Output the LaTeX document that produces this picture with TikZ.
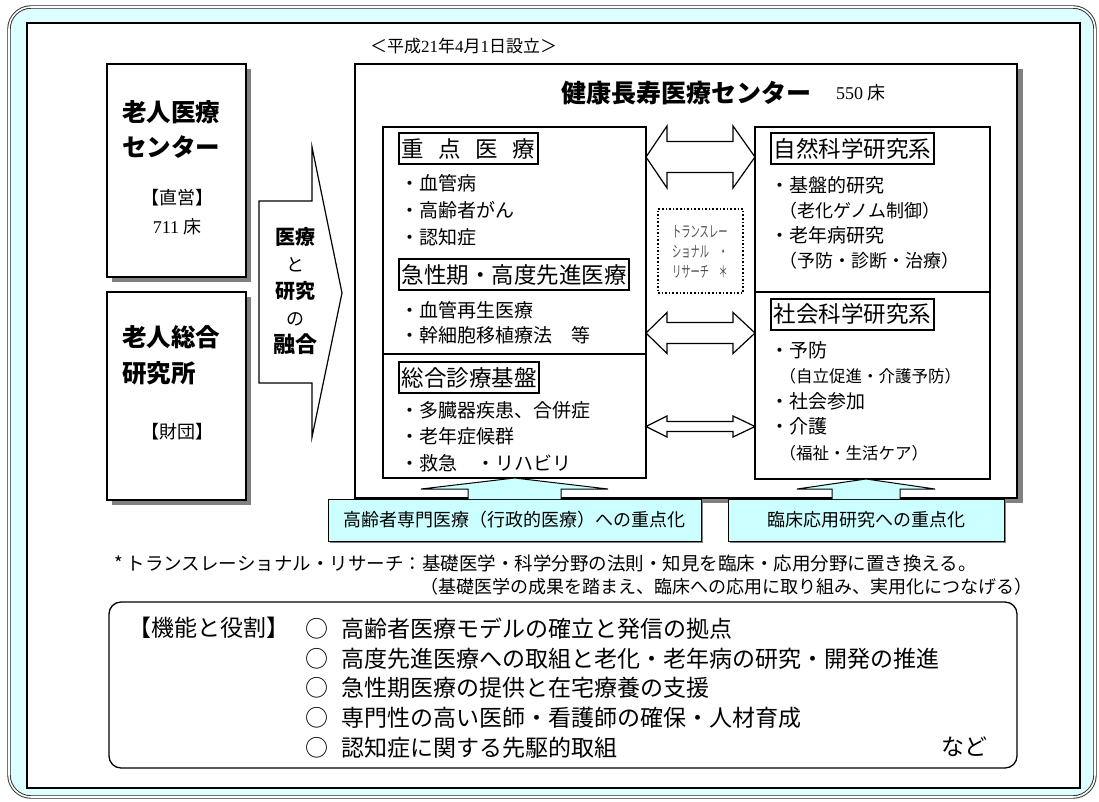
\documentclass[tikz,border=0pt]{standalone}
\usepackage{fontspec}
\setmainfont{Noto Sans CJK JP}
\newfontfamily\numfont{Liberation Serif}
\usepackage{graphicx}
\usetikzlibrary{positioning,shadows,calc}
\definecolor{FrameCyan}{HTML}{DDFFFF}
\definecolor{FocusCyan}{HTML}{CCFFFF}
\definecolor{ShadowGray}{HTML}{808080}
\definecolor{NoteGray}{HTML}{505050}

\begin{document}
\begin{tikzpicture}[
  x=1pt,y=-1pt,
  every node/.style={inner sep=0pt,outer sep=0pt},
  frame/.style={draw=black!85,double=white,double distance=1.6pt,line width=0.9pt,fill=FrameCyan,rounded corners=22pt},
  sheet/.style={draw,line width=1.2pt,fill=white},
  orgbox/.style={draw,line width=1.2pt,fill=white,minimum width=139pt,drop shadow={shadow xshift=5pt,shadow yshift=-5pt,fill=ShadowGray,opacity=1}},
  mainbox/.style={draw,line width=1.2pt,fill=white,drop shadow={shadow xshift=6pt,shadow yshift=-5pt,fill=ShadowGray,opacity=1}},
  panel/.style={draw,line width=1.2pt,fill=white},
  hdr/.style={draw,line width=2pt,inner xsep=2.5pt,minimum height=31pt,anchor=west,font=\fontsize{22.5pt}{27pt}\selectfont},
  item/.style={anchor=west,align=left,font=\fontsize{19pt}{#1}\selectfont},
  item/.default=27pt,
  gtitle/.style={anchor=west,font=\fontsize{24.5pt}{30pt}\selectfont\bfseries},
  tag/.style={font=\fontsize{18pt}{22pt}\selectfont},
  fusion/.style={draw,line width=1.2pt,fill=white,line join=miter},
  blockarrow/.style={draw,line width=1.2pt,fill=white},
  transl/.style={draw,dotted,line width=1.6pt},
  focus/.style={draw,line width=1pt,fill=FocusCyan,minimum height=42pt,font=\fontsize{18pt}{22pt}\selectfont,drop shadow={shadow xshift=2pt,shadow yshift=-2pt,fill=ShadowGray,opacity=1}},
  uparrow/.style={draw,line width=1pt,fill=FocusCyan},
  note/.style={font=\fontsize{18pt}{22pt}\selectfont},
  rolebox/.style={draw,line width=1.3pt,fill=white,rounded corners=12pt},
  role/.style={font=\fontsize{23pt}{29.75pt}\selectfont}
]
  \useasboundingbox (0,0) rectangle (1099,801);
  \node[frame,minimum width=1086pt,minimum height=790pt] (frame) at (552,402) {};
  \node[sheet,minimum width=1053pt,minimum height=765pt] (sheet) at (553.5,405.5) {};

  \node[orgbox,minimum height=213pt] (center) at (176.5,170.5) {};
  \node[orgbox,minimum height=208pt] (institute) at (176.5,396) {};
  \node[gtitle] (centerA) at (122,112) {老人医療};
  \node[gtitle] (centerB) at (122,147) {センター};
  \node[tag] (direct) at (177,198) {【直営】};
  \node[tag] (beds711) at (177,227) {{\numfont 711} 床};
  \node[gtitle] (instA) at (122,337) {老人総合};
  \node[gtitle] (instB) at (122,373) {研究所};
  \node[tag] (found) at (177,432) {【財団】};

  \draw[fusion] (259,201) -- (312,201) -- (312,147) -- (342,293) -- (312,437) -- (312,383) -- (259,383) -- cycle;
  \node[align=center,font=\fontsize{20pt}{27pt}\selectfont\bfseries] (fusionText) at (295,291)
    {医療\\{\mdseries\fontsize{18pt}{27pt}\selectfont と}\\研究\\{\mdseries\fontsize{18pt}{27pt}\selectfont の}\\{\fontsize{22pt}{27pt}\selectfont 融合}};

  \node[mainbox,minimum width=662pt,minimum height=434pt] (kenko) at (686,281) {};
  \node[anchor=west,font=\fontsize{17pt}{20pt}\selectfont] (founded) at (370,46) {＜平成{\numfont 21}年{\numfont 4}月{\numfont 1}日設立＞};
  \node[anchor=west,font=\fontsize{25pt}{30pt}\selectfont\bfseries] (kenkoTitle) at (561,93) {健康長寿医療センター};
  \node[anchor=west,font=\fontsize{18pt}{22pt}\selectfont] (beds550) at (836,93) {{\numfont 550} 床};

  \node[panel,minimum width=263pt,minimum height=351pt] (med) at (514.5,302.5) {};
  \draw[line width=1.2pt] (med.west |- 0,354) -- (med.east |- 0,354);
  \node[panel,minimum width=235pt,minimum height=352pt] (res) at (872.5,303) {};
  \draw[line width=1.2pt] (res.west |- 0,292) -- (res.east |- 0,292);

  \node[hdr] (keyMed) at (399,148.5) {重\hspace{0.65em}点\hspace{0.65em}医\hspace{0.65em}療};
  \node[hdr] (acute) at (399,274.5) {急性期・高度先進医療};
  \node[hdr] (general) at (399,377.5) {総合診療基盤};
  \node[hdr] (natural) at (771,148.5) {自然科学研究系};
  \node[hdr] (social) at (771,314) {社会科学研究系};

  \node[item] (keyItems) at (400,210) {・血管病\\・高齢者がん\\・認知症};
  \node[item=25pt] (acuteItems) at (400,322.5) {・血管再生医療\\・幹細胞移植療法　等};
  \node[item=26.5pt] (generalItems) at (400,436.5) {・多臓器疾患、合併症\\・老年症候群\\・救急　・リハビリ};
  \node[item=25pt] (naturalItems) at (770,222.5)
    {・基盤的研究\\\hspace{0.5em}{\fontsize{18pt}{25pt}\selectfont （老化ゲノム制御）}\\・老年病研究\\\hspace{0.5em}{\fontsize{18pt}{25pt}\selectfont （予防・診断・治療）}};
  \node[item=25.5pt] (socialItems) at (770,401)
    {・予防\\\hspace{0.5em}{\fontsize{16.5pt}{25.5pt}\selectfont （自立促進・介護予防）}\\・社会参加\\・介護\\\hspace{0.5em}{\fontsize{16.5pt}{25.5pt}\selectfont （福祉・生活ケア）}};

  \node[transl,minimum width=85pt,minimum height=84pt] (transl) at (700.5,251) {};
  \node[anchor=west,align=left,text=NoteGray,font=\fontsize{15.5pt}{20pt}\selectfont] (translText) at (672,252)
    {\scalebox{0.6}[1]{トランスレー}\\\scalebox{0.6}[1]{ショナル　・}\\\scalebox{0.6}[1]{リサーチ　＊}};

  \foreach \y/\s/\h in {157/15.5/31,333/10.5/20.5,426.5/5/10.5}{
    \coordinate (L) at (med.east |- 0,\y);
    \coordinate (R) at (res.west |- 0,\y);
    \draw[blockarrow] (L) -- ([shift={(21,-\h)}]L) -- ([shift={(21,-\s)}]L) -- ([shift={(-22,-\s)}]R)
      -- ([shift={(-22,-\h)}]R) -- (R) -- ([shift={(-22,\h)}]R) -- ([shift={(-22,\s)}]R)
      -- ([shift={(21,\s)}]L) -- ([shift={(21,\h)}]L) -- cycle;
  }

  \node[focus,minimum width=373pt] (focusMed) at (514.5,520) {高齢者専門医療（行政的医療）への重点化};
  \node[focus,minimum width=276pt] (focusRes) at (866,520) {臨床応用研究への重点化};
  \foreach \fb/\pn/\s/\w in {focusMed/med/46.5/93.5,focusRes/res/34/69}{
    \coordinate (B) at (\fb.north);
    \coordinate (T) at (\fb.north |- \pn.south);
    \path[uparrow] ([shift={(-\s,0)}]B) -- ([shift={(-\s,-10)}]B) -- ([shift={(-\w,-10)}]B) -- (T)
      -- ([shift={(\w,-10)}]B) -- ([shift={(\s,-10)}]B) -- ([shift={(\s,0)}]B);
  }

  \node[note,anchor=west,font=\fontsize{18.5pt}{22pt}\selectfont] (noteA) at (114,563) {* トランスレーショナル・リサーチ：基礎医学・科学分野の法則・知見を臨床・応用分野に置き換える。};
  \node[note,anchor=east] (noteB) at (1032,587) {（基礎医学の成果を踏まえ、臨床への応用に取り組み、実用化につなげる）};

  \node[rolebox,minimum width=908pt,minimum height=166pt] (roles) at (563,685) {};
  \node[role,anchor=west] (rolesLabel) at (128,628) {【機能と役割】};
  \node[role,anchor=west,align=left] (roleList) at (305,688)
    {○\hspace{0.6em}高齢者医療モデルの確立と発信の拠点\\○\hspace{0.6em}高度先進医療への取組と老化・老年病の研究・開発の推進\\○\hspace{0.6em}急性期医療の提供と在宅療養の支援\\○\hspace{0.6em}専門性の高い医師・看護師の確保・人材育成\\○\hspace{0.6em}認知症に関する先駆的取組};
  \node[role,anchor=east] (etc) at (987,747) {など};
\end{tikzpicture}
\end{document}
